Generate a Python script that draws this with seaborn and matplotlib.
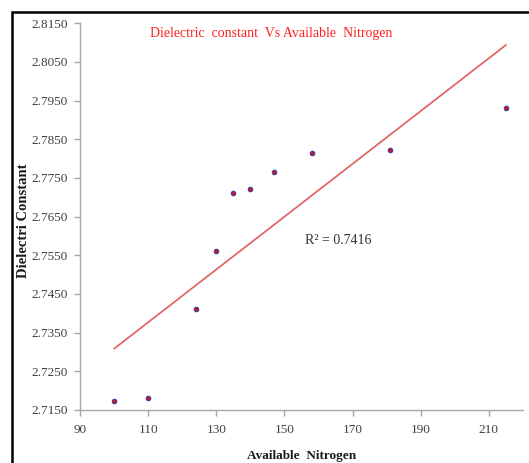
import matplotlib
matplotlib.use("Agg")
import matplotlib.pyplot as plt
from matplotlib.patches import Rectangle
import numpy as np
import pandas as pd
import seaborn as sns

# Soil samples: available nitrogen vs. dielectric constant
available_nitrogen = [100, 110, 124, 130, 135, 140, 147, 158, 181, 215]
dielectric_constant = [2.7173, 2.7181, 2.7410, 2.7561, 2.7711,
                       2.7722, 2.7765, 2.7815, 2.7822, 2.7930]
r_squared_label = "R\u00b2 = 0.7416"

x_ticks = [90, 110, 130, 150, 170, 190, 210]
y_ticks = [2.7150, 2.7250, 2.7350, 2.7450, 2.7550, 2.7650,
           2.7750, 2.7850, 2.7950, 2.8050, 2.8150]

df = pd.DataFrame({"Available Nitrogen": available_nitrogen,
                   "Dielectric Constant": dielectric_constant})

sns.set_theme(style="ticks")
plt.rcParams["font.family"] = ["Liberation Serif", "DejaVu Serif"]

W, H = 529, 463
fig = plt.figure(figsize=(W / 100, H / 100), dpi=100)
ax = fig.add_axes([80 / W, 1 - 410 / H, (523 - 80) / W, (410 - 23.3) / H])

# linear trendline across the data range
sns.regplot(data=df, x="Available Nitrogen", y="Dielectric Constant",
            scatter=False, ci=None, truncate=True, ax=ax,
            line_kws={"color": "#e06868", "lw": 1.3})
sns.scatterplot(data=df, x="Available Nitrogen", y="Dielectric Constant",
                ax=ax, color="#d0102a", edgecolor="#2b3f9a",
                linewidth=0.7, s=11, zorder=3, legend=False)

ax.set_xlim(90, 220)
ax.set_ylim(2.7150, 2.8150)
ax.set_xticks(x_ticks)
ax.set_yticks(y_ticks)
ax.set_yticklabels([f"{v:.4f}" for v in y_ticks])

grey = "#a6a6a6"
for side in ("top", "right"):
    ax.spines[side].set_visible(False)
for side in ("left", "bottom"):
    ax.spines[side].set_color(grey)
    ax.spines[side].set_linewidth(1.0)
ax.tick_params(axis="both", colors=grey, length=4, width=1.0,
               labelcolor="#404040", labelsize=9.5)
ax.tick_params(axis="x", pad=6)
ax.tick_params(axis="y", pad=5)

ax.set_xlabel("Available  Nitrogen", fontsize=9.5, fontweight="bold",
              color="#1a1a1a", labelpad=10)
ax.set_ylabel("Dielectri Constant", fontsize=10.5, fontweight="bold",
              color="#1a1a1a")
ax.yaxis.set_label_coords((30 - 80) / (523 - 80), 0.49)

fig.text(271 / W, 1 - 34 / H, "Dielectric  constant  Vs Available  Nitrogen",
         color="#ff2020", fontsize=10, ha="center", va="center")
fig.text(338 / W, 1 - 241 / H, r_squared_label, color="#333333",
         fontsize=10, ha="center", va="center")

# outer frame around the chart
fig.patches.append(Rectangle((11.5 / W, -0.1), 1.2, 1 - 12.5 / H + 0.1,
                             transform=fig.transFigure, fill=False,
                             ec="black", lw=1.8, clip_on=False))

fig.savefig("out.png", dpi=100, facecolor="white")
